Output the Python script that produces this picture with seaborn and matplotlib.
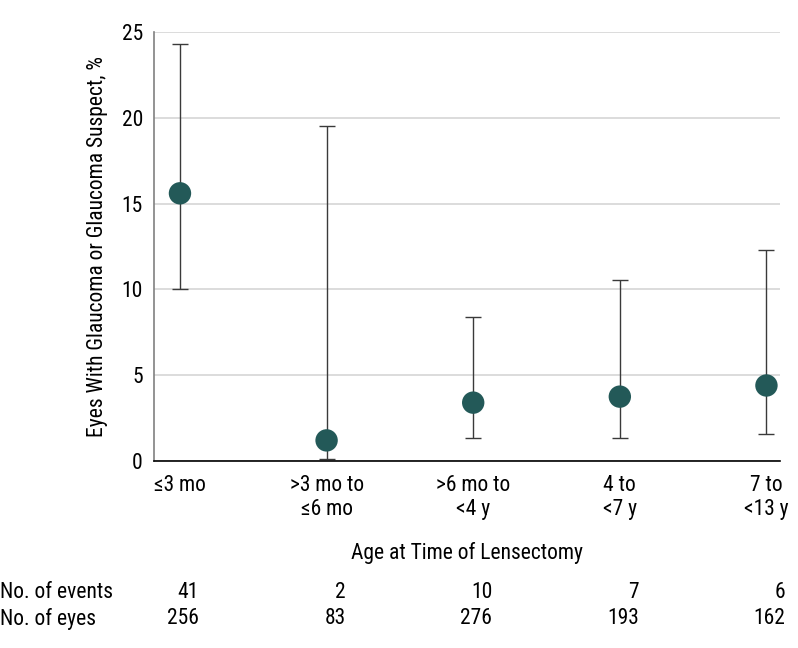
import numpy as np
import pandas as pd
import matplotlib
matplotlib.use('Agg')
import matplotlib.pyplot as plt
import seaborn as sns

# age groups and estimates
age_groups = ['≤3 mo', '>3 mo to\n≤6 mo', '>6 mo to\n<4 y', '4 to\n<7 y', '7 to\n<13 y']
pct = [15.6, 1.2, 3.4, 3.75, 4.4]
ci_low = [10.0, 0.1, 1.35, 1.35, 1.6]
ci_high = [24.3, 19.55, 8.4, 10.55, 12.3]
n_events = [41, 2, 10, 7, 6]
n_eyes = [256, 83, 276, 193, 162]

df = pd.DataFrame({'pos': np.arange(len(age_groups)), 'pct': pct,
                   'lo': ci_low, 'hi': ci_high})

sns.set_style('white')
plt.rcParams['font.family'] = ['Roboto Condensed', 'DejaVu Sans']
plt.rcParams['text.color'] = 'black'
plt.rcParams['axes.labelcolor'] = 'black'
plt.rcParams['xtick.color'] = 'black'
plt.rcParams['ytick.color'] = 'black'
fs = 15.5

fig = plt.figure(figsize=(7.98, 6.48), dpi=100)
ax = fig.add_axes([0.193, 0.2886, 0.784, 0.662])

# confidence intervals
ax.errorbar(df['pos'], df['pct'],
            yerr=[df['pct'] - df['lo'], df['hi'] - df['pct']],
            fmt='none', ecolor='#3a3a3a', elinewidth=1.0, capsize=6, capthick=1.0, zorder=2)
sns.scatterplot(data=df, x='pos', y='pct', color='#235958', s=260, edgecolor='none',
                ax=ax, zorder=3, legend=False)

ax.set_xlim(-0.177, 4.09)
ax.set_ylim(0, 25)
ax.set_yticks([0, 5, 10, 15, 20, 25])
ax.yaxis.grid(True, color='#d9d9d9', linewidth=1.3)
ax.set_axisbelow(True)
ax.set_xticks(df['pos'])
ax.set_xticklabels(age_groups, linespacing=1.2)
ax.tick_params(axis='x', length=5, width=1, labelsize=fs, pad=5)
ax.tick_params(axis='y', length=5, width=1, labelsize=fs, pad=3)
ax.tick_params(axis='y', color='#808080')
for s in ['top', 'right']:
    ax.spines[s].set_visible(False)
ax.spines['left'].set_color('#808080')
ax.spines['bottom'].set_color('black')
ax.spines['left'].set_linewidth(1.2)
ax.spines['bottom'].set_linewidth(1.2)

ax.set_ylabel('Eyes With Glaucoma or Glaucoma Suspect, %', fontsize=fs, labelpad=10)
ax.set_xlabel('Age at Time of Lensectomy', fontsize=fs, labelpad=16)

# table of counts below the plot
tr = ax.get_xaxis_transform()
fig.text(0.0, 1 - 593 / 648, 'No. of events', fontsize=fs, va='center')
fig.text(0.0, 1 - 619 / 648, 'No. of eyes', fontsize=fs, va='center')
for i in range(len(age_groups)):
    ax.text(i + 0.13, -132 / 429, str(n_events[i]), transform=tr,
            ha='right', va='center', fontsize=fs, clip_on=False)
    ax.text(i + 0.13, -158 / 429, str(n_eyes[i]), transform=tr,
            ha='right', va='center', fontsize=fs, clip_on=False)

fig.savefig('out.png', dpi=100, facecolor='white')
